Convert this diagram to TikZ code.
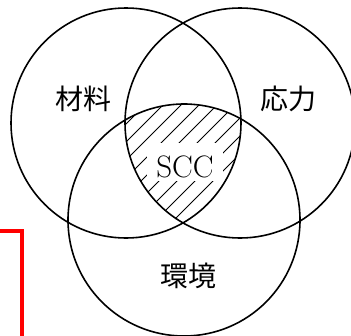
\documentclass[tikz,border=0pt]{standalone}
\usepackage{fontspec}
\newfontfamily\cjk{Noto Sans CJK JP}
\begin{document}
\begin{tikzpicture}[x=1pt,y=-1pt,
  ring/.style={draw=black,line width=1.6pt},
  hatch/.style={draw=black,line width=1pt},
  cjklabel/.style={inner sep=0pt,font=\cjk\fontsize{28}{28}\selectfont},
  sccback/.style={fill=white,draw=none,inner sep=0pt,minimum width=76pt,minimum height=38pt},
  scclabel/.style={inner sep=0pt,font=\fontsize{31}{31}\selectfont}]
\useasboundingbox (0,0) rectangle (351,335);
% hatching of the triple intersection
\begin{scope}
  \clip (126,123) circle[radius=115pt];
  \clip (240,123) circle[radius=115pt];
  \clip (184,220) circle[radius=116pt];
  \foreach \c in {196,214,...,460} {
    \draw[hatch] (\c,0) -- (0,\c);
  }
\end{scope}
\node[sccback] (sccbg) at (185,162) {};
\node[scclabel,anchor=base] (scc) at (185,177) {SCC};
% circles
\node[ring,circle,minimum size=230pt,inner sep=0pt] (mat) at (126,123) {};
\node[ring,circle,minimum size=230pt,inner sep=0pt] (str) at (240,123) {};
\node[ring,circle,minimum size=232pt,inner sep=0pt] (env) at (184,220) {};
% labels
\node[cjklabel] (lmat) at (83,99) {材料};
\node[cjklabel] (lstr) at (288,99) {応力};
\node[cjklabel] (lenv) at (188,276) {環境};
% red frame fragment
\coordinate (r1) at (0,231);
\coordinate (r2) at (22,231);
\coordinate (r3) at (22,336);
\draw[red,line width=3.5pt] (r1) -- (r2) -- (r3);
\end{tikzpicture}
\end{document}
